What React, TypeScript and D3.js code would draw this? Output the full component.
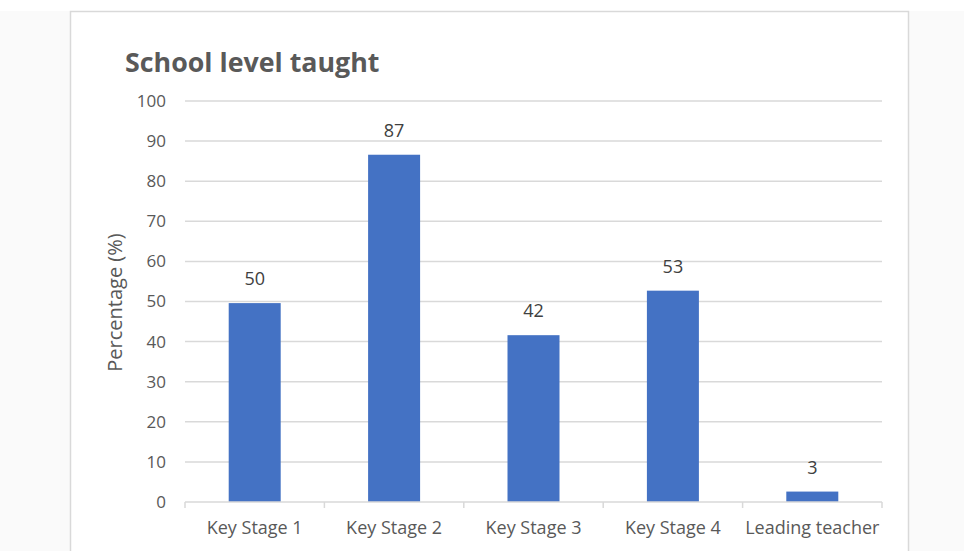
import * as React from 'react';
import * as d3 from 'd3';

const categories = ['Key Stage 1', 'Key Stage 2', 'Key Stage 3', 'Key Stage 4', 'Leading teacher'];
const percentages = [49.6, 86.6, 41.6, 52.7, 2.6];
const yTicks = [0, 10, 20, 30, 40, 50, 60, 70, 80, 90, 100];

const WIDTH = 964;
const HEIGHT = 551;
const FONT = '"Open Sans", Lato, sans-serif';
const BAR = '#4472C4';
const GRID = '#d9d9d9';
const TEXT = '#595959';

export default function App() {
  const ref = React.useRef<SVGSVGElement>(null);

  React.useEffect(() => {
    const svg = d3.select(ref.current);
    svg.selectAll('*').remove();

    const margin = { left: 185, right: 82, top: 101, bottom: 49 };
    const x = d3
      .scaleBand<string>()
      .domain(categories)
      .range([margin.left, WIDTH - margin.right])
      .paddingInner(0.627)
      .paddingOuter(0.3135);
    const y = d3.scaleLinear().domain([0, 100]).range([HEIGHT - margin.bottom, margin.top]);

    // page background + chart frame
    svg.append('rect').attr('width', WIDTH).attr('height', HEIGHT).attr('fill', '#fff');
    svg.append('rect').attr('x', 0).attr('y', 11).attr('width', WIDTH).attr('height', HEIGHT - 11).attr('fill', '#fafafa');
    svg
      .append('rect')
      .attr('x', 70.5)
      .attr('y', 11.5)
      .attr('width', 838)
      .attr('height', HEIGHT)
      .attr('fill', '#fff')
      .attr('stroke', GRID)
      .attr('stroke-width', 1.5);

    // gridlines
    svg
      .append('g')
      .selectAll('line')
      .data(yTicks.filter((t) => t > 0))
      .enter()
      .append('line')
      .attr('x1', margin.left)
      .attr('x2', WIDTH - margin.right)
      .attr('y1', (d) => y(d))
      .attr('y2', (d) => y(d))
      .attr('stroke', GRID)
      .attr('stroke-width', 1.5);

    // y tick labels
    svg
      .append('g')
      .selectAll('text')
      .data(yTicks)
      .enter()
      .append('text')
      .attr('x', 166)
      .attr('y', (d) => y(d))
      .attr('dy', '0.35em')
      .attr('text-anchor', 'end')
      .style('font-family', FONT)
      .style('font-size', '17px')
      .style('fill', TEXT)
      .text((d) => d);

    // bars
    svg
      .append('g')
      .selectAll('rect')
      .data(percentages)
      .enter()
      .append('rect')
      .attr('x', (_d, i) => x(categories[i])!)
      .attr('y', (d) => y(d))
      .attr('width', x.bandwidth())
      .attr('height', (d) => y(0) - y(d))
      .attr('fill', BAR);

    // value labels
    svg
      .append('g')
      .selectAll('text')
      .data(percentages)
      .enter()
      .append('text')
      .attr('x', (_d, i) => x(categories[i])! + x.bandwidth() / 2)
      .attr('y', (d) => y(d) - 18)
      .attr('text-anchor', 'middle')
      .style('font-family', FONT)
      .style('font-size', '18px')
      .style('fill', '#404040')
      .text((d) => d3.format('.0f')(d));

    // x axis line and ticks
    const axis = svg.append('g');
    axis
      .append('line')
      .attr('x1', margin.left)
      .attr('x2', WIDTH - margin.right)
      .attr('y1', y(0))
      .attr('y2', y(0))
      .attr('stroke', GRID)
      .attr('stroke-width', 1.5);
    const step = x.step();
    axis
      .selectAll('line.tick')
      .data(d3.range(categories.length + 1))
      .enter()
      .append('line')
      .attr('class', 'tick')
      .attr('x1', (i) => margin.left + i * step)
      .attr('x2', (i) => margin.left + i * step)
      .attr('y1', y(0))
      .attr('y2', y(0) + 6)
      .attr('stroke', GRID)
      .attr('stroke-width', 1.5);
    axis
      .selectAll('text')
      .data(categories)
      .enter()
      .append('text')
      .attr('x', (d) => x(d)! + x.bandwidth() / 2)
      .attr('y', 534)
      .attr('text-anchor', 'middle')
      .style('font-family', FONT)
      .style('font-size', '18px')
      .style('fill', TEXT)
      .text((d) => d);

    // y axis title
    svg
      .append('text')
      .attr('transform', `translate(122,${(y(0) + y(100)) / 2 + 1}) rotate(-90)`)
      .attr('text-anchor', 'middle')
      .style('font-family', FONT)
      .style('font-size', '20px')
      .style('fill', TEXT)
      .text('Percentage (%)');

    // title
    svg
      .append('text')
      .attr('x', 125)
      .attr('y', 72)
      .style('font-family', FONT)
      .style('font-size', '26.8px')
      .style('font-weight', '700')
      .style('fill', TEXT)
      .text('School level taught');
  }, []);

  return (
    <svg
      ref={ref}
      width={WIDTH}
      height={HEIGHT}
      style={{ position: 'absolute', left: 0, top: 0, display: 'block' }}
    />
  );
}
